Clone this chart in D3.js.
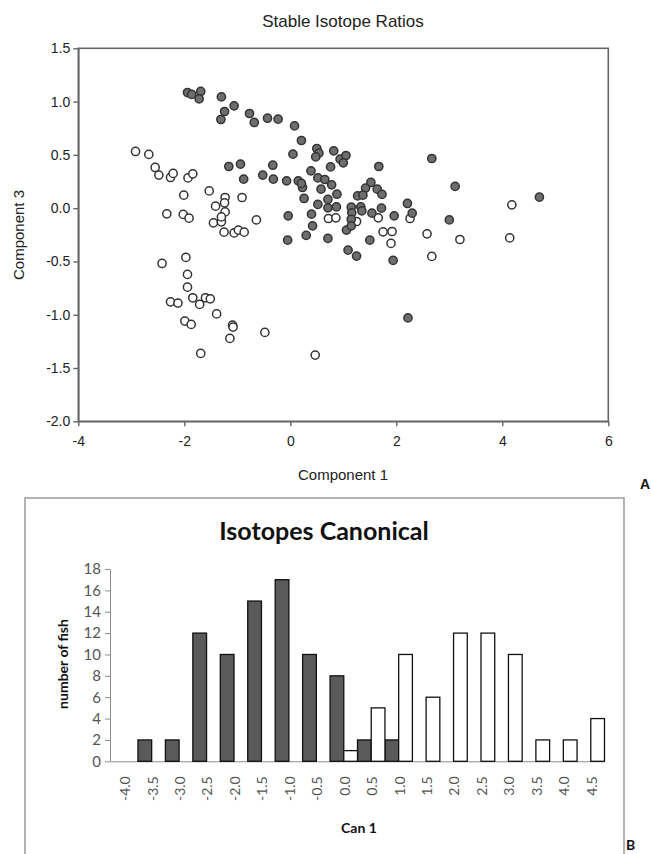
<!DOCTYPE html>
<html>
<head>
<meta charset="utf-8">
<script src="https://cdn.jsdelivr.net/npm/d3@7"></script>
<style>
  body { margin: 0; background: #fff; }
  svg { display: block; }
</style>
</head>
<body>
<div id="master"></div>
<script>
// panel A - component scores, [comp1, comp3]
const filledPts = [
  [-1.94,1.085],[-1.86,1.067],[-1.69,1.095],[-1.72,1.025],[-1.30,1.044],[-1.24,0.907],
  [-1.06,0.96],[-1.31,0.832],[-0.77,0.888],[-0.68,0.804],[-0.43,0.844],[-0.23,0.835],
  [0.08,0.772],[0.21,0.635],[0.05,0.507],[0.50,0.56],[0.54,0.516],[0.48,0.481],
  [0.82,0.538],[0.94,0.46],[1.05,0.494],[1.00,0.425],[0.76,0.387],[0.39,0.35],
  [-1.16,0.391],[-0.94,0.413],[-0.88,0.272],[-0.52,0.31],[-0.33,0.403],[-0.32,0.272],
  [-0.07,0.256],[0.15,0.256],[0.23,0.194],[0.21,0.232],[0.52,0.284],[0.65,0.269],
  [0.78,0.219],[0.58,0.178],[0.88,0.131],[0.26,0.091],[0.71,0.082],[0.52,0.035],
  [0.71,0.003],[0.87,0.012],[0.40,-0.056],[-0.04,-0.072],[0.42,-0.166],[0.30,-0.256],
  [-0.05,-0.30],[0.71,-0.284],[1.06,-0.206],[1.09,-0.394],[1.67,0.391],[2.67,0.466],
  [3.11,0.204],[1.52,0.241],[1.42,0.188],[1.64,0.178],[1.73,0.129],[1.27,0.115],
  [1.37,0.122],[1.15,0.009],[1.33,0.012],[1.72,0.0],[2.21,0.044],[1.16,-0.044],
  [1.35,-0.025],[1.54,-0.047],[1.96,-0.072],[2.30,-0.047],[1.15,-0.106],[1.15,-0.166],
  [1.50,-0.30],[1.25,-0.45],[3.00,-0.11],[4.70,0.103],[1.94,-0.49],[2.22,-1.03]
];
const openPts = [
  [-2.92,0.532],[-2.67,0.504],[-2.55,0.382],[-2.48,0.31],[-2.26,0.288],[-2.21,0.326],
  [-1.93,0.284],[-1.84,0.322],[-2.01,0.122],[-1.53,0.162],[-1.23,0.10],[-0.91,0.10],
  [-1.41,0.019],[-1.24,0.05],[-1.23,-0.035],[-2.33,-0.053],[-2.02,-0.059],[-1.91,-0.094],
  [-1.45,-0.138],[-1.30,-0.128],[-1.30,-0.082],[-0.64,-0.11],[-1.25,-0.225],[-1.06,-0.232],
  [-0.98,-0.206],[-0.87,-0.225],[0.72,-0.097],[0.86,-0.091],[-1.97,-0.462],[-2.42,-0.519],
  [-1.94,-0.622],[-1.94,-0.741],[-2.26,-0.879],[-2.12,-0.891],[-1.84,-0.841],[-1.71,-0.903],
  [-1.60,-0.841],[-1.51,-0.851],[-1.39,-0.992],[-1.99,-1.06],[-1.87,-1.091],[-1.09,-1.098],
  [-1.08,-1.116],[-1.14,-1.222],[-0.48,-1.166],[-1.69,-1.363],[0.47,-1.379],[1.25,-0.125],
  [1.66,-0.091],[2.26,-0.097],[1.75,-0.222],[1.92,-0.219],[1.90,-0.331],[2.58,-0.241],
  [3.20,-0.294],[2.67,-0.453],[4.18,0.031],[4.14,-0.279]
];
const comp1Ticks = [-4, -2, 0, 2, 4, 6];
const comp3Ticks = [-2, -1.5, -1, -0.5, 0, 0.5, 1, 1.5];

// panel B - histogram of canonical scores
const canCats = ["-4.0","-3.5","-3.0","-2.5","-2.0","-1.5","-1.0","-0.5","0.0","0.5","1.0","1.5","2.0","2.5","3.0","3.5","4.0","4.5"];
const darkCounts  = [0,2,2,12,10,15,17,10,8,2,2,0,0,0,0,0,0,0];
const whiteCounts = [0,0,0,0,0,0,0,0,1,5,10,6,12,12,10,2,2,4];
const fishTicks = [0,2,4,6,8,10,12,14,16,18];

const W = 651, H = 854;
const svg = d3.select("#master").append("svg").attr("width", W).attr("height", H);

// ---------- A ----------
const arial = "'Liberation Sans', Arial, sans-serif";
const xA = d3.scaleLinear().domain([-4, 6]).range([78.3, 608.3]);
const yA = d3.scaleLinear().domain([-2, 1.5]).range([421.3, 48.3]);

svg.append("text").attr("x", 343).attr("y", 27).attr("text-anchor", "middle")
  .style("font-family", arial).style("font-size", "17px").attr("fill", "#222")
  .text("Stable Isotope Ratios");

svg.append("rect").attr("x", xA(-4)).attr("y", yA(1.5))
  .attr("width", xA(6) - xA(-4)).attr("height", yA(-2) - yA(1.5))
  .attr("fill", "none").attr("stroke", "#666").attr("stroke-width", 1.6);

const axA1 = svg.append("g").attr("transform", `translate(0,${yA(-2)})`)
  .call(d3.axisBottom(xA).tickValues(comp1Ticks).tickSize(5).tickSizeOuter(0).tickFormat(d => String(d)));
const axA3 = svg.append("g").attr("transform", `translate(${xA(-4)},0)`)
  .call(d3.axisLeft(yA).tickValues(comp3Ticks).tickSize(5).tickSizeOuter(0).tickFormat(d => d.toFixed(1)));
[axA1, axA3].forEach(g => {
  g.select(".domain").attr("stroke", "#666").attr("stroke-width", 1.6);
  g.selectAll(".tick line").attr("stroke", "#666").attr("stroke-width", 1.4);
  g.selectAll("text").style("font-family", arial).style("font-size", "14px").attr("fill", "#222");
});
axA1.selectAll("text").attr("dy", "1.2em");

svg.append("text").attr("x", 343).attr("y", 480).attr("text-anchor", "middle")
  .style("font-family", arial).style("font-size", "15px").attr("fill", "#222").text("Component 1");
svg.append("text").attr("transform", `translate(24,235) rotate(-90)`).attr("text-anchor", "middle")
  .style("font-family", arial).style("font-size", "15px").attr("fill", "#222").text("Component 3");

svg.append("g").selectAll("circle").data(openPts).join("circle")
  .attr("cx", d => xA(d[0])).attr("cy", d => yA(d[1])).attr("r", 4.1)
  .attr("fill", "#fff").attr("stroke", "#333").attr("stroke-width", 1.5);
svg.append("g").selectAll("circle").data(filledPts).join("circle")
  .attr("cx", d => xA(d[0])).attr("cy", d => yA(d[1])).attr("r", 4.1)
  .attr("fill", "#6e6e6e").attr("stroke", "#333").attr("stroke-width", 1.5);

svg.append("text").attr("x", 640).attr("y", 489).style("font-family", arial)
  .style("font-size", "14px").style("font-weight", "bold").attr("fill", "#111").text("A");

// ---------- B ----------
const cal = "Lato, 'Open Sans', sans-serif";
svg.append("rect").attr("x", 25).attr("y", 498).attr("width", 599).attr("height", 370)
  .attr("fill", "none").attr("stroke", "#9a9a9a").attr("stroke-width", 1.5);

svg.append("text").attr("x", 324).attr("y", 540).attr("text-anchor", "middle")
  .style("font-family", cal).style("font-size", "25px").style("font-weight", "bold").attr("fill", "#111")
  .text("Isotopes Canonical");

const xB = d3.scaleBand().domain(canCats).range([110.5, 604.5]).padding(0);
const yB = d3.scaleLinear().domain([0, 18]).range([761.3, 569]);
const bw = xB.bandwidth() / 2;

const ayB = svg.append("g").attr("transform", "translate(110,0)")
  .call(d3.axisLeft(yB).tickValues(fishTicks).tickSize(5).tickSizeOuter(0));
ayB.select(".domain").attr("stroke", "#8c8c8c");
ayB.selectAll(".tick line").attr("stroke", "#8c8c8c");
ayB.selectAll("text").style("font-family", cal).style("font-size", "15px").attr("fill", "#555").attr("x", -9);

const axB = svg.append("g").attr("transform", `translate(0,${yB(0)})`)
  .call(d3.axisBottom(xB).tickSize(0).tickSizeOuter(0));
axB.select(".domain").attr("stroke", "#8c8c8c");
axB.selectAll("text").style("font-family", cal).style("font-size", "14px").attr("fill", "#555")
  .attr("text-anchor", "end").attr("dy", "0.35em")
  .attr("transform", "translate(1,15) rotate(-90)").attr("y", 0).attr("x", 0);

svg.append("g").selectAll("rect").data(canCats).join("rect")
  .attr("x", (d, i) => xB(d)).attr("y", (d, i) => yB(darkCounts[i]))
  .attr("width", bw).attr("height", (d, i) => yB(0) - yB(darkCounts[i]))
  .attr("fill", "#5a5a5a").attr("stroke", "#111").attr("stroke-width", 1.3)
  .style("display", (d, i) => darkCounts[i] ? null : "none");
svg.append("g").selectAll("rect").data(canCats).join("rect")
  .attr("x", (d, i) => xB(d) + bw).attr("y", (d, i) => yB(whiteCounts[i]))
  .attr("width", bw).attr("height", (d, i) => yB(0) - yB(whiteCounts[i]))
  .attr("fill", "#fff").attr("stroke", "#111").attr("stroke-width", 1.3)
  .style("display", (d, i) => whiteCounts[i] ? null : "none");

svg.append("text").attr("transform", "translate(68,664) rotate(-90)").attr("text-anchor", "middle")
  .style("font-family", cal).style("font-size", "14px").style("font-weight", "bold").attr("fill", "#111")
  .text("number of fish");
svg.append("text").attr("x", 359).attr("y", 833).attr("text-anchor", "middle")
  .style("font-family", cal).style("font-size", "14px").style("font-weight", "bold").attr("fill", "#111")
  .text("Can 1");
svg.append("text").attr("x", 626).attr("y", 850).style("font-family", cal)
  .style("font-size", "14px").style("font-weight", "bold").attr("fill", "#111").text("B");
</script>
</body>
</html>
